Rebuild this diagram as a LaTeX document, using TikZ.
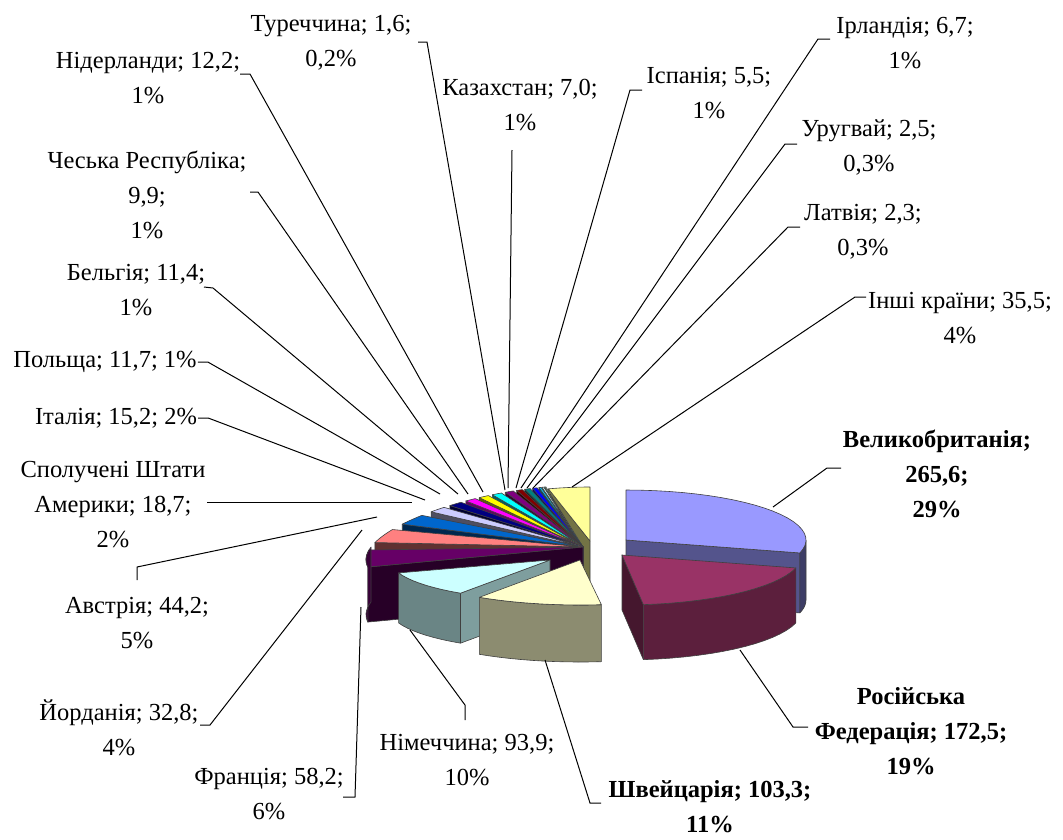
\documentclass[tikz,border=0pt]{standalone}
\usepackage{fontspec}
\setmainfont{Liberation Serif}

% slice colours (Excel default chart palette)
\definecolor{cUK}{HTML}{9999FF}
\definecolor{cRU}{HTML}{993366}
\definecolor{cCH}{HTML}{FFFFCC}
\definecolor{cDE}{HTML}{CCFFFF}
\definecolor{cFR}{HTML}{660066}
\definecolor{cAT}{HTML}{FF8080}
\definecolor{cJO}{HTML}{0066CC}
\definecolor{cUS}{HTML}{CCCCFF}
\definecolor{cIT}{HTML}{000080}
\definecolor{cNL}{HTML}{FF00FF}
\definecolor{cPL}{HTML}{FFFF00}
\definecolor{cBE}{HTML}{00FFFF}
\definecolor{cCZ}{HTML}{800080}
\definecolor{cKZ}{HTML}{800000}
\definecolor{cIE}{HTML}{008080}
\definecolor{cES}{HTML}{0000FF}
\definecolor{cUY}{HTML}{00CCFF}
\definecolor{cLV}{HTML}{CCFFFF}
\definecolor{cTR}{HTML}{CCFFCC}
\definecolor{cOT}{HTML}{FFFF99}

% rim of the main (left) group of slices, angle in degrees
\newcommand\rimx[1]{583+212*cos(#1)*(1-0.2*sin(#1))+5*sin(#1)}
\newcommand\rimy[1]{547-62*sin(#1)}

% one slice of the left group: start angle, end angle, colour, gap fraction
\newcommand\thinslice[4]{%
  \pgfmathsetmacro\tstart{#1+#4*(#2-#1)}%
  \filldraw[facet, fill=#3!38!black] (apex) -- ({\rimx{#2}},{\rimy{#2}})
     -- ({\rimx{#2}},{\rimy{#2}+55}) -- (apexlow) -- cycle;
  \filldraw[facet, fill=#3] (apex)
     -- plot[domain=\tstart:#2, samples=12] ({\rimx{\x}},{\rimy{\x}}) -- cycle;
}

\begin{document}
\begin{tikzpicture}[x=1pt,y=-1pt,
  lbl/.style={align=center, inner sep=0pt, font=\fontsize{24.5}{35}\selectfont},
  lblb/.style={align=center, inner sep=0pt, font=\fontsize{24.5}{35}\selectfont\bfseries},
  leader/.style={draw=black, line width=1pt, line join=miter},
  facet/.style={draw=black!75, line width=0.6pt, line join=round}]

\fill[white] (0,0) rectangle (1063,839);
\useasboundingbox (0,0) rectangle (1063,839);

% ---------- left group of slices ----------
\coordinate (apex) at (583,547);
\coordinate (apexlow) at (583,602);

% other countries: pushed slightly out to the right
\filldraw[facet, fill=cOT!45!black] (590,541) -- ({\rimx{104.03}+2},{\rimy{104.03}+2})
  -- ({\rimx{104.03}+2},{\rimy{104.03}+57}) -- (590,596) -- cycle;
\filldraw[facet, fill=cOT] (590,541)
  -- plot[domain=90:104.03, samples=8] ({\rimx{\x}+2},{\rimy{\x}+2}) -- cycle;

\thinslice{104.03}{104.66}{cTR}{0.3}
\thinslice{104.66}{105.57}{cLV}{0.3}
\thinslice{105.57}{106.56}{cUY}{0.3}
\thinslice{106.56}{108.73}{cES}{0.3}
\thinslice{108.73}{111.38}{cIE}{0.3}
\thinslice{111.38}{114.15}{cKZ}{0.3}
\thinslice{114.15}{118.06}{cCZ}{0.3}
\thinslice{118.06}{122.57}{cBE}{0.3}
\thinslice{122.57}{127.20}{cPL}{0.3}
\thinslice{127.20}{132.02}{cNL}{0.3}
\thinslice{132.02}{138.03}{cIT}{0.3}
\thinslice{138.03}{145.42}{cUS}{0.3}
\thinslice{145.42}{158.39}{cJO}{0.3}
\thinslice{158.39}{175.86}{cAT}{0.3}
\thinslice{175.86}{198.87}{cFR}{0.3}
% France: outer side
\filldraw[facet, fill=cFR!55!black]
  plot[domain=180:198.87, samples=8] ({\rimx{\x}},{\rimy{\x}})
  -- plot[domain=198.87:180, samples=8] ({\rimx{\x}},{\rimy{\x}+55}) -- cycle;

% ---------- Germany ----------
\filldraw[facet, fill=cDE!62!black] (550,560) -- ({550+160*cos(235.99)},{560-40*sin(235.99)})
  -- ({550+160*cos(235.99)},{610-40*sin(235.99)}) -- (550,610) -- cycle;
\filldraw[facet, fill=cDE!52!black]
  plot[domain=198.87:235.99, samples=10] ({550+160*cos(\x)},{560-40*sin(\x)})
  -- plot[domain=235.99:198.87, samples=10] ({550+160*cos(\x)},{610-40*sin(\x)}) -- cycle;
\filldraw[facet, fill=cDE] (550,560)
  -- plot[domain=198.87:235.99, samples=10] ({550+160*cos(\x)},{560-40*sin(\x)}) -- cycle;

% ---------- Switzerland ----------
\filldraw[facet, fill=cCH!55!black]
  plot[domain=235.99:276.82, samples=12] ({580+180*cos(\x)},{560-45*sin(\x)})
  -- plot[domain=276.82:235.99, samples=12] ({580+180*cos(\x)},{617-45*sin(\x)}) -- cycle;
\filldraw[facet, fill=cCH] (580,560)
  -- plot[domain=235.99:276.82, samples=12] ({580+180*cos(\x)},{560-45*sin(\x)}) -- cycle;

% ---------- United Kingdom ----------
\filldraw[facet, fill=cUK!55!black] (626,540) -- ({626+180*cos(345.01)},{540-50*sin(345.01)})
  -- ({626+180*cos(345.01)},{600-50*sin(345.01)}) -- (626,600) -- cycle;
\filldraw[facet, fill=cUK!40!black]
  plot[domain=345.01:360, samples=6] ({626+180*cos(\x)},{540-50*sin(\x)})
  -- plot[domain=360:345.01, samples=6] ({626+180*cos(\x)},{600-50*sin(\x)}) -- cycle;
\filldraw[facet, fill=cUK] (626,540)
  -- plot[domain=345.01:450, samples=24] ({626+180*cos(\x)},{540-50*sin(\x)}) -- cycle;

% ---------- Russian Federation ----------
\filldraw[facet, fill=cRU!45!black] (622,555) -- ({622+180*cos(276.82)},{555-50*sin(276.82)})
  -- ({622+180*cos(276.82)},{610-50*sin(276.82)}) -- (622,610) -- cycle;
\filldraw[facet, fill=cRU!60!black]
  plot[domain=276.82:345.01, samples=16] ({622+180*cos(\x)},{555-50*sin(\x)})
  -- plot[domain=345.01:276.82, samples=16] ({622+180*cos(\x)},{610-50*sin(\x)}) -- cycle;
\filldraw[facet, fill=cRU] (622,555)
  -- plot[domain=276.82:345.01, samples=16] ({622+180*cos(\x)},{555-50*sin(\x)}) -- cycle;

% ---------- labels ----------
\node[lbl] (tr) at (331,43) {Туреччина; 1,6;\\0,2\%};
\node[lbl] (nl) at (148,78) {Нідерланди; 12,2;\\1\%};
\node[lbl] (cz) at (147,195) {Чеська Республіка;\\9,9;\\1\%};
\node[lbl] (be) at (136,290) {Бельгія; 11,4;\\1\%};
\node[lbl] (pl) at (105,362) {Польща; 11,7; 1\%};
\node[lbl] (it) at (116,418) {Італія; 15,2; 2\%};
\node[lbl] (us) at (113,505) {Сполучені Штати\\Америки; 18,7;\\2\%};
\node[lbl] (at) at (137,623) {Австрія; 44,2;\\5\%};
\node[lbl] (jo) at (119,728) {Йорданія; 32,8;\\4\%};
\node[lbl] (fr) at (269,794) {Франція; 58,2;\\6\%};
\node[lbl] (de) at (467,760) {Німеччина; 93,9;\\10\%};
\node[lblb] (ch) at (710,807) {Швейцарія; 103,3;\\11\%};
\node[lblb] (ru) at (911,731) {Російська\\Федерація; 172,5;\\19\%};
\node[lblb] (uk) at (937,474) {Великобританія;\\265,6;\\29\%};
\node[lbl] (ot) at (960,318) {Інші країни; 35,5;\\4\%};
\node[lbl] (lv) at (863,232) {Латвія; 2,3;\\0,3\%};
\node[lbl] (uy) at (869,147) {Уругвай; 2,5;\\0,3\%};
\node[lbl] (es) at (709,93) {Іспанія; 5,5;\\1\%};
\node[lbl] (ie) at (905,43) {Ірландія; 6,7;\\1\%};
\node[lbl] (kz) at (520,105) {Казахстан; 7,0;\\1\%};

% ---------- leader lines ----------
% label-side points
\coordinate (tr-a) at (418,42);  \coordinate (tr-b) at (427,42);
\coordinate (kz-a) at (512,150);
\coordinate (es-a) at (642,90);  \coordinate (es-b) at (630,90);
\coordinate (ie-a) at (830,39);  \coordinate (ie-b) at (818,39);
\coordinate (uy-a) at (797,144); \coordinate (uy-b) at (785,144);
\coordinate (lv-a) at (800,227); \coordinate (lv-b) at (788,227);
\coordinate (ot-a) at (866,297); \coordinate (ot-b) at (855,297);
\coordinate (nl-a) at (240,74);  \coordinate (nl-b) at (250,74);
\coordinate (cz-a) at (250,192); \coordinate (cz-b) at (258,192);
\coordinate (be-a) at (204,287); \coordinate (be-b) at (213,288);
\coordinate (us-a) at (207,502);
\coordinate (at-a) at (137,580); \coordinate (at-b) at (137,567);
\coordinate (jo-a) at (200,725); \coordinate (jo-b) at (210,725);
\coordinate (fr-a) at (343,797); \coordinate (fr-b) at (355,797);
\coordinate (de-a) at (465,720); \coordinate (de-b) at (465,705);
\coordinate (ch-a) at (601,803); \coordinate (ch-b) at (590,803);
\coordinate (ru-a) at (808,727); \coordinate (ru-b) at (793,727);
\coordinate (uk-a) at (841,468); \coordinate (uk-b) at (827,468);
% slice-side points
\coordinate (tr-e) at (505,490);
\coordinate (kz-e) at (508,488);
\coordinate (es-e) at (516,488);
\coordinate (ie-e) at (521,488);
\coordinate (uy-e) at (527,488);
\coordinate (lv-e) at (533,488);
\coordinate (ot-e) at (572,487);
\coordinate (nl-e) at (483,492);
\coordinate (cz-e) at (468,494);
\coordinate (be-e) at (458,494);
\coordinate (pl-e) at (440,494);
\coordinate (it-e) at (425,500);
\coordinate (us-e) at (412,502);
\coordinate (at-e) at (377,517);
\coordinate (jo-e) at (362,530);
\coordinate (fr-e) at (361,607);
\coordinate (de-e) at (410,630);
\coordinate (ch-e) at (545,660);
\coordinate (ru-e) at (740,650);
\coordinate (uk-e) at (773,507);

\draw[leader] (tr-a) -- (tr-b) -- (tr-e);
\draw[leader] (kz-a) -- (kz-e);
\draw[leader] (es-a) -- (es-b) -- (es-e);
\draw[leader] (ie-a) -- (ie-b) -- (ie-e);
\draw[leader] (uy-a) -- (uy-b) -- (uy-e);
\draw[leader] (lv-a) -- (lv-b) -- (lv-e);
\draw[leader] (ot-a) -- (ot-b) -- (ot-e);
\draw[leader] (nl-a) -- (nl-b) -- (nl-e);
\draw[leader] (cz-a) -- (cz-b) -- (cz-e);
\draw[leader] (be-a) -- (be-b) -- (be-e);
\draw[leader] ([xshift=1pt]pl.east) -- ++(10,0) -- (pl-e);
\draw[leader] ([xshift=1pt]it.east) -- ++(10,0) -- (it-e);
\draw[leader] (us-a) -- (us-e);
\draw[leader] (at-a) -- (at-b) -- (at-e);
\draw[leader] (jo-a) -- (jo-b) -- (jo-e);
\draw[leader] (fr-a) -- (fr-b) -- (fr-e);
\draw[leader] (de-a) -- (de-b) -- (de-e);
\draw[leader] (ch-a) -- (ch-b) -- (ch-e);
\draw[leader] (ru-a) -- (ru-b) -- (ru-e);
\draw[leader] (uk-a) -- (uk-b) -- (uk-e);

\end{tikzpicture}
\end{document}
